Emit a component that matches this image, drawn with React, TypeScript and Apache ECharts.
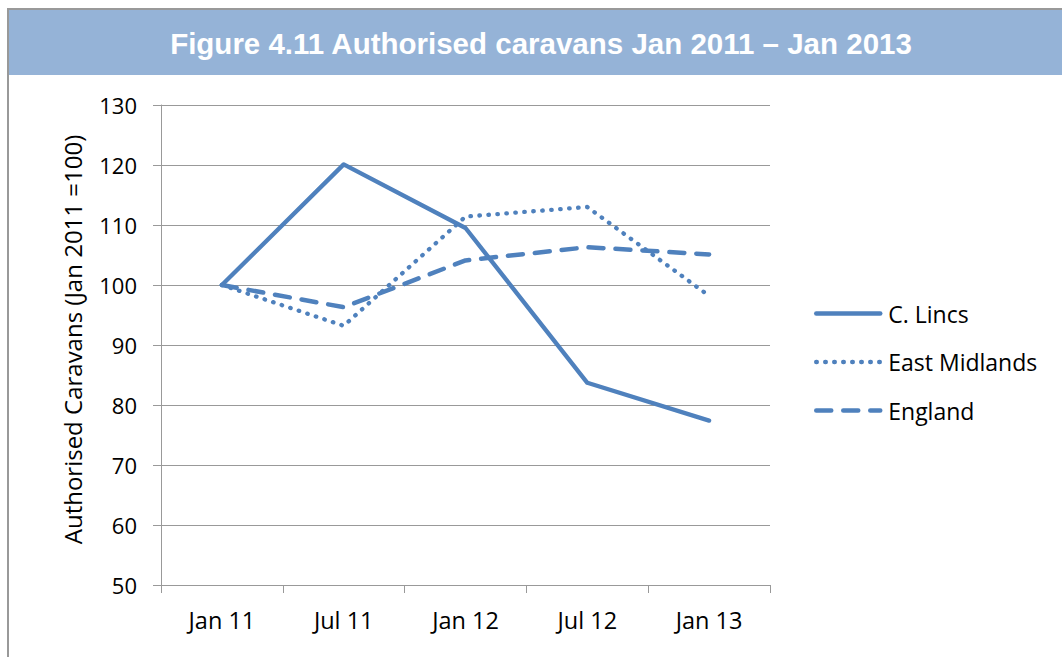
import React, { useEffect, useRef } from "react";
import * as echarts from "echarts";

const categories = ["Jan 11", "Jul 11", "Jan 12", "Jul 12", "Jan 13"];
const cLincs = [100, 120.1, 109.5, 83.7, 77.4];
const eastMidlands = [100, 93.2, 111.4, 113.0, 98.2];
const england = [100, 96.3, 104.1, 106.3, 105.1];
const yMin = 50;
const yMax = 130;
const yStep = 10;

const titleText = "Figure 4.11 Authorised caravans Jan 2011 \u2013 Jan 2013";
const yName = "Authorised Caravans (Jan 2011 =100)";

const BLUE = "#4F81BD";
const GRID = "#999999";
const FONT = "'Open Sans', sans-serif";

export default function App() {
  const ref = useRef<HTMLDivElement>(null);
  useEffect(() => {
    if (!ref.current) return;
    const chart = echarts.init(ref.current, undefined, { renderer: "svg" });
    chart.setOption({
      animation: false,
      backgroundColor: "#ffffff",
      graphic: [
        {
          type: "rect",
          shape: { x: 8, y: 9, width: 1100, height: 700 },
          style: { fill: "none", stroke: "#999999", lineWidth: 2 },
          z: 0,
        },
        {
          type: "rect",
          shape: { x: 9, y: 10, width: 1060, height: 65 },
          style: { fill: "#95B3D7" },
          z: 1,
        },
        {
          type: "text",
          x: 541,
          y: 43,
          z: 2,
          style: {
            text: titleText,
            fill: "#ffffff",
            font: "bold 29.5px 'Liberation Sans', Arial, sans-serif",
            textAlign: "center",
            textVerticalAlign: "middle",
          },
        },
      ],
      grid: { left: 161, right: 292, top: 105, bottom: 72, containLabel: false },
      legend: {
        orient: "vertical",
        left: 809,
        top: 297,
        itemWidth: 64,
        itemHeight: 14,
        itemGap: 25.5,
        itemStyle: { opacity: 0 },
        lineStyle: { width: 4.5, cap: "round" },
        textStyle: {
          fontFamily: FONT,
          fontSize: 23,
          color: "#000000",
          lineHeight: 23,
          padding: [0, 0, 0, 3],
        },
        data: ["C. Lincs", "East Midlands", "England"],
      },
      xAxis: {
        type: "category",
        data: categories,
        boundaryGap: true,
        axisLine: { show: true, lineStyle: { color: GRID, width: 1 } },
        axisTick: { show: true, length: 8, lineStyle: { color: GRID } },
        axisLabel: { fontFamily: FONT, fontSize: 23.5, color: "#000000", margin: 23 },
        splitLine: { show: false },
      },
      yAxis: {
        type: "value",
        min: yMin,
        max: yMax,
        interval: yStep,
        name: yName,
        nameLocation: "middle",
        nameGap: 77,
        nameTextStyle: {
          fontFamily: FONT,
          fontSize: 24,
          color: "#000000",
          padding: [0, 0, 0, 11],
        },
        axisLine: { show: true, lineStyle: { color: GRID, width: 1 } },
        axisTick: { show: true, length: 8, lineStyle: { color: GRID } },
        axisLabel: { fontFamily: FONT, fontSize: 22, color: "#000000", margin: 24 },
        splitLine: { show: true, lineStyle: { color: GRID, width: 1.2 } },
      },
      series: [
        {
          name: "C. Lincs",
          type: "line",
          data: cLincs,
          symbol: "none",
          lineStyle: { color: BLUE, width: 4.3, type: "solid", cap: "round", join: "round" },
          itemStyle: { color: BLUE },
        },
        {
          name: "East Midlands",
          type: "line",
          data: eastMidlands,
          symbol: "none",
          lineStyle: { color: BLUE, width: 4.3, type: [0.5, 8.5], cap: "round", join: "round" },
          itemStyle: { color: BLUE },
        },
        {
          name: "England",
          type: "line",
          data: england,
          symbol: "none",
          lineStyle: { color: BLUE, width: 4.5, type: [15, 12], cap: "round", join: "round" },
          itemStyle: { color: BLUE },
        },
      ],
    });
    return () => chart.dispose();
  }, []);
  return (
    <div
      ref={ref}
      style={{ position: "absolute", left: 0, top: 0, width: 1062, height: 657 }}
    />
  );
}
